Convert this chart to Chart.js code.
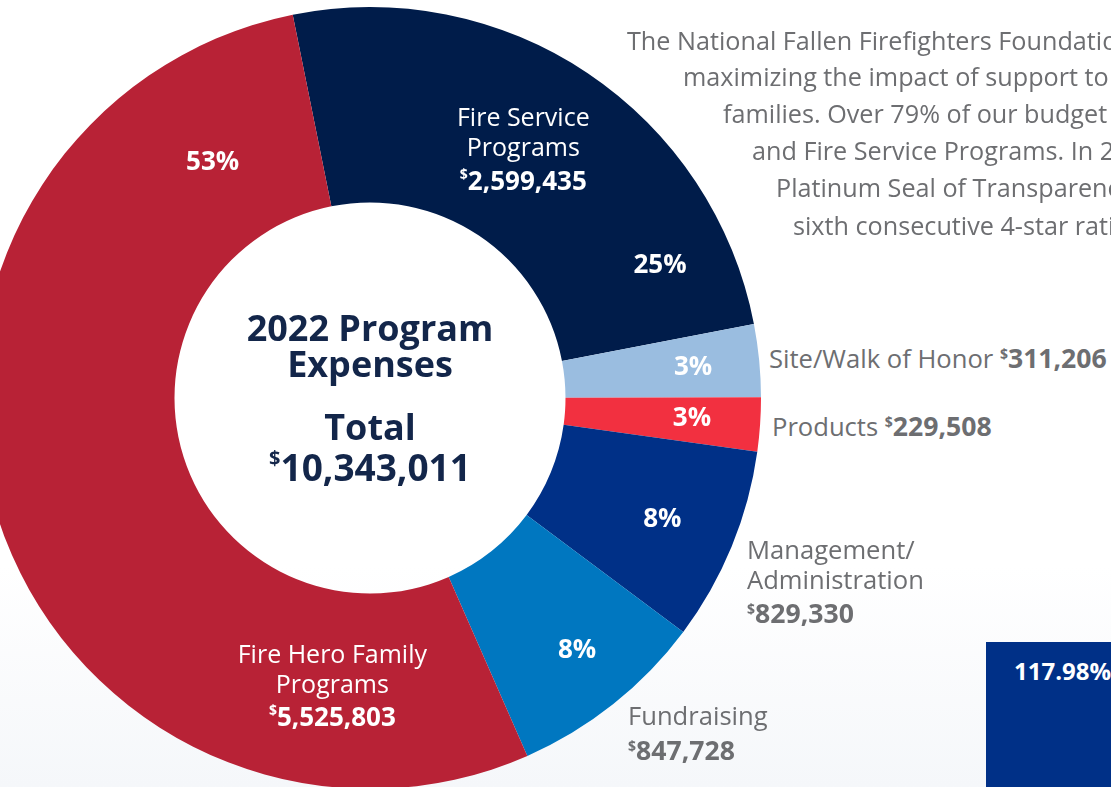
<!DOCTYPE html>
<html>
<head>
<meta charset="utf-8">
<script src="https://cdn.jsdelivr.net/npm/chart.js@4/dist/chart.umd.min.js"></script>
<style>
  html, body { margin: 0; padding: 0; }
  body {
    width: 1111px; height: 787px; overflow: hidden; position: relative;
    background: linear-gradient(to bottom, #ffffff 0%, #ffffff 72%, #f5f7fa 100%);
    font-family: "Open Sans", "Noto Sans", sans-serif;
  }
  #expenseChart { position: absolute; left: -21px; top: 7px; }
  .blurb { position: absolute; white-space: nowrap; color: #6d6e71; font-size: 25.2px; line-height: 30px; }
  .side { position: absolute; white-space: nowrap; color: #6d6e71; font-size: 25.6px; line-height: 30px; }
  .side b { font-weight: 700; font-size: 26.6px; }
  .side sup { font-size: 14px; font-weight: 700; vertical-align: 9px; line-height: 0; }
  #ratio { position: absolute; left: 986px; top: 642px; right: 0; bottom: 0; background: #003087; }
  #ratio span { position: absolute; left: 28px; top: 12px; color: #fff; font-weight: 700; font-size: 24px; }
</style>
</head>
<body>
<canvas id="expenseChart" width="782" height="782"></canvas>

<div class="blurb" style="left:627px; top:25px">The National Fallen Firefighters Foundation is committed to</div>
<div class="blurb" style="left:683px; top:61px">maximizing the impact of support to fallen firefighters'</div>
<div class="blurb" style="left:723px; top:98px">families. Over 79% of our budget goes to Fire Hero Family</div>
<div class="blurb" style="left:752px; top:135px">and Fire Service Programs. In 2022, we earned Candid's</div>
<div class="blurb" style="left:776px; top:172px">Platinum Seal of Transparency and Charity Navigator's</div>
<div class="blurb" style="left:793px; top:210px">sixth consecutive 4-star rating.</div>

<div class="side" style="left:769px; top:343px">Site/Walk of Honor <sup>$</sup><b>311,206</b></div>
<div class="side" style="left:772px; top:411px">Products <sup>$</sup><b>229,508</b></div>
<div class="side" style="left:747px; top:535px">Management/</div>
<div class="side" style="left:747px; top:565px">Administration</div>
<div class="side" style="left:747px; top:598px"><sup>$</sup><b>829,330</b></div>
<div class="side" style="left:628px; top:701px">Fundraising</div>
<div class="side" style="left:628px; top:735px"><sup>$</sup><b>847,728</b></div>

<div id="ratio"><span>117.98%</span></div>

<script>
// chart data
var categories = ['Fire Service Programs', 'Site/Walk of Honor', 'Products',
  'Management/Administration', 'Fundraising', 'Fire Hero Family Programs'];
var amounts = [2599435, 311206, 229508, 829330, 847728, 5525803];
var percentLabels = ['25%', '3%', '3%', '8%', '8%', '53%'];
var totalLabel = '10,343,011';

var sliceColors = ['#001c4a', '#9abde0', '#f23040', '#003087', '#0077c0', '#b82236'];

// where the text sits inside each arc: fraction along the arc, fraction across the ring
var pctSpots = [[0.85, 0.63], [0.52, 0.66], [0.46, 0.65], [0.51, 0.62], [0.47, 0.67], [0.884, 0.45]];
var nameSpots = { 0: [0.477, 0.49, ['Fire Service', 'Programs'], '2,599,435'],
                  5: [0.162, 0.49, ['Fire Hero Family', 'Programs'], '5,525,803'] };

function spot(arc, f, rf) {
  var a = arc.startAngle + f * (arc.endAngle - arc.startAngle);
  var r = arc.innerRadius + rf * (arc.outerRadius - arc.innerRadius);
  return { x: arc.x + Math.cos(a) * r, y: arc.y + Math.sin(a) * r };
}

function drawAmount(ctx, num, cx, cy, size, color) {
  var big = '700 ' + size + 'px "Open Sans"';
  var small = '700 ' + Math.round(size * 0.55) + 'px "Open Sans"';
  ctx.font = small;
  var w1 = ctx.measureText('$').width;
  ctx.font = big;
  var w2 = ctx.measureText(num).width;
  var x0 = cx - (w1 + w2) / 2;
  ctx.fillStyle = color;
  ctx.textAlign = 'left';
  ctx.textBaseline = 'middle';
  ctx.font = small;
  ctx.fillText('$', x0, cy - size * 0.3);
  ctx.font = big;
  ctx.fillText(num, x0 + w1, cy);
}

var sliceText = {
  id: 'sliceText',
  afterDatasetsDraw: function(chart) {
    var ctx = chart.ctx;
    var arcs = chart.getDatasetMeta(0).data;
    ctx.save();
    ctx.textBaseline = 'middle';
    arcs.forEach(function(arc, i) {
      var p = spot(arc, pctSpots[i][0], pctSpots[i][1]);
      ctx.font = '700 26px "Open Sans"';
      ctx.fillStyle = '#fff';
      ctx.textAlign = 'center';
      ctx.fillText(percentLabels[i], p.x, p.y);
      var n = nameSpots[i];
      if (n) {
        var q = spot(arc, n[0], n[1]);
        ctx.font = '400 25px "Open Sans"';
        ctx.fillText(n[2][0], q.x, q.y - 31);
        ctx.fillText(n[2][1], q.x, q.y - 1);
        drawAmount(ctx, n[3], q.x, q.y + 32, 26, '#fff');
      }
    });
    // centre title
    var c = arcs[0];
    var navy = '#13264a';
    ctx.fillStyle = navy;
    ctx.textAlign = 'center';
    ctx.font = '700 36px "Open Sans"';
    ctx.fillText('2022 Program', c.x, c.y - 67);
    ctx.fillText('Expenses', c.x, c.y - 31);
    ctx.fillText('Total', c.x, c.y + 32);
    drawAmount(ctx, totalLabel, c.x, c.y + 72, 37, navy);
    ctx.restore();
  }
};

var ctx = document.getElementById('expenseChart').getContext('2d');
var expenseChart = new Chart(ctx, {
  type: 'doughnut',
  data: {
    labels: categories,
    datasets: [{
      data: amounts,
      backgroundColor: sliceColors,
      borderWidth: 0
    }]
  },
  options: {
    responsive: false,
    animation: false,
    cutout: '50%',
    rotation: -11.4,
    events: [],
    layout: { padding: 0 },
    plugins: {
      legend: { display: false },
      tooltip: { enabled: false }
    }
  },
  plugins: [sliceText]
});
</script>
</body>
</html>
